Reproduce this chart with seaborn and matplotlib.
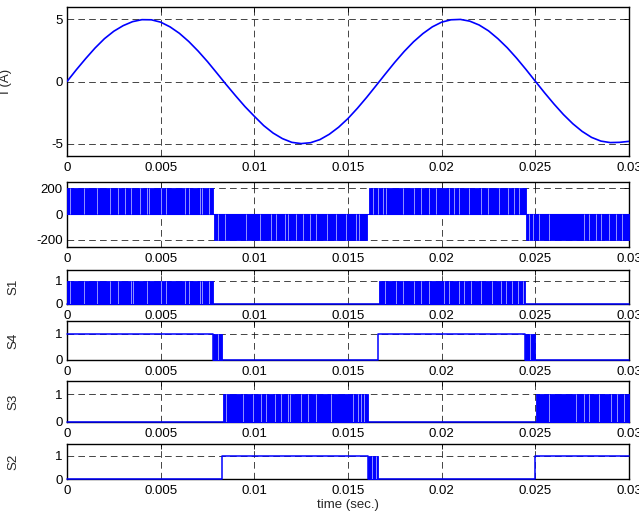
import matplotlib
matplotlib.use("Agg")
import matplotlib.pyplot as plt
import seaborn as sns
import pandas as pd

# ---------------- data ----------------
x_ticks = [0, 0.005, 0.01, 0.015, 0.02, 0.025, 0.03]
x_tick_labels = ["0", "0.005", "0.01", "0.015", "0.02", "0.025", "0.03"]

t_current = [0.0, 0.0005, 0.001, 0.0015, 0.002, 0.0025, 0.003, 0.0035, 0.004, 0.0045,
             0.005, 0.0055, 0.006, 0.0065, 0.007, 0.0075, 0.008, 0.0085, 0.009, 0.0095,
             0.01, 0.0105, 0.011, 0.0115, 0.012, 0.0125, 0.013, 0.0135, 0.014, 0.0145,
             0.015, 0.0155, 0.016, 0.0165, 0.017, 0.0175, 0.018, 0.0185, 0.019, 0.0195,
             0.02, 0.0205, 0.021, 0.0215, 0.022, 0.0225, 0.023, 0.0235, 0.024, 0.0245,
             0.025, 0.0255, 0.026, 0.0265, 0.027, 0.0275, 0.028, 0.0285, 0.029, 0.0295, 0.03]
i_current = [0.0, 0.95, 1.85, 2.7, 3.45, 4.05, 4.5, 4.82, 4.98, 4.97,
             4.78, 4.4, 3.88, 3.22, 2.45, 1.6, 0.68, -0.25, -1.15, -2.02,
             -2.8, -3.55, -4.15, -4.6, -4.9, -5.0, -4.93, -4.68, -4.25, -3.68,
             -2.98, -2.16, -1.27, -0.33, 0.62, 1.55, 2.42, 3.2, 3.86, 4.4,
             4.78, 4.97, 5.0, 4.86, 4.55, 4.08, 3.45, 2.72, 1.88, 0.97,
             0.02, -0.92, -1.82, -2.66, -3.4, -4.02, -4.5, -4.8, -4.92, -4.9, -4.82]

# inverter voltage: PWM bands between 0 and +/-200 V
v_band_start = [0.0, 0.00784, 0.01612, 0.02452]
v_band_end = [0.00777, 0.0160, 0.02448, 0.030]
v_band_level = [200, -200, 200, -200]
v_band_gaps = [
    [0.00016, 0.0009, 0.00158, 0.00229, 0.00272, 0.00309, 0.0034, 0.00389, 0.00426,
     0.00437, 0.0050, 0.00528, 0.00629, 0.0065, 0.00709, 0.00723, 0.00757],
    [0.00805, 0.00842, 0.00957, 0.01028, 0.01091, 0.01117, 0.01162, 0.01178, 0.01224,
     0.01258, 0.01295, 0.0133, 0.0139, 0.01437, 0.0149, 0.01544, 0.01561],
    [0.01632, 0.01659, 0.01686, 0.01704, 0.01792, 0.01854, 0.0189, 0.01934, 0.0197,
     0.02041, 0.02067, 0.02094, 0.02147, 0.0221, 0.02245, 0.02307, 0.02352, 0.02387, 0.02414],
    [0.02464, 0.02485, 0.0252, 0.02574, 0.0276, 0.02787, 0.02826, 0.02849, 0.02893,
     0.02929, 0.02964],
]

# gate signals: steady step levels plus switching bands (0..1)
s1_step_t = [0.0, 0.03]
s1_step_v = [0, 0]
s1_band_start = [0.0, 0.01668]
s1_band_end = [0.00777, 0.02445]
s1_band_gaps = [
    [0.00016, 0.0009, 0.00158, 0.00229, 0.00272, 0.0034, 0.00352, 0.00426, 0.0050,
     0.00528, 0.00629, 0.00652, 0.00709, 0.00723, 0.00757],
    [0.01695, 0.01757, 0.01792, 0.01854, 0.0189, 0.01934, 0.02014, 0.02041, 0.02094,
     0.02121, 0.02156, 0.0221, 0.02271, 0.02316, 0.02343, 0.02378, 0.02405, 0.02432],
]

s4_step_t = [0.0, 0.0078, 0.01662, 0.02445, 0.03]
s4_step_v = [1, 0, 1, 0, 0]
s4_band_start = [0.0078, 0.02445]
s4_band_end = [0.0083, 0.02496]
s4_band_gaps = [[0.00805], [0.0247]]

s3_step_t = [0.0, 0.03]
s3_step_v = [0, 0]
s3_band_start = [0.00834, 0.02505]
s3_band_end = [0.01606, 0.03]
s3_band_gaps = [
    [0.00851, 0.0094, 0.00993, 0.01037, 0.01064, 0.01108, 0.01144, 0.01179, 0.01188,
     0.01251, 0.01286, 0.0133, 0.0141, 0.01526, 0.01552, 0.0157, 0.01588],
    [0.02574, 0.02716, 0.0276, 0.02787, 0.0284, 0.02902, 0.02938, 0.02973],
]

s2_step_t = [0.0, 0.00829, 0.01606, 0.02496, 0.03]
s2_step_v = [0, 1, 0, 1, 1]
s2_band_start = [0.01606]
s2_band_end = [0.01662]
s2_band_gaps = [[0.0163, 0.01648]]

# ---------------- styling ----------------
sns.set_theme(style="white")
plt.rcParams["font.family"] = ["Liberation Sans", "DejaVu Sans"]
plt.rcParams["font.size"] = 9.5

BLUE = "#0000ff"

fig = plt.figure(figsize=(6.39, 5.19), dpi=100)
W = 639.0
H = 519.0
left_px, right_px = 67, 629
# (top, bottom) pixel rows of each panel
rows = [(7, 156), (182, 247), (270, 304), (321, 360), (381, 422), (444, 479)]
axes = []
for top, bot in rows:
    ax = fig.add_axes([left_px / W, 1 - bot / H, (right_px - left_px) / W, (bot - top) / H])
    axes.append(ax)


def style_axis(ax, yticks, ylim):
    ax.set_xlim(0, 0.03)
    ax.set_ylim(*ylim)
    ax.set_xticks(x_ticks)
    ax.set_xticklabels(x_tick_labels)
    ax.set_yticks(yticks)
    ax.set_yticklabels([str(v) for v in yticks])
    ax.set_axisbelow(True)
    ax.grid(True, color="black", linestyle=(0, (8, 5)), linewidth=0.6, alpha=0.85)
    ax.tick_params(direction="in", length=3.5, width=0.6, top=True, right=True,
                   labelsize=9.5, colors="black", pad=3)
    ax.tick_params(axis="x", pad=4)
    for s in ax.spines.values():
        s.set_color("black")
        s.set_linewidth(1.0)
        s.set_visible(True)
    ax.set_xlabel("")
    ax.set_ylabel("")


def draw_bands(ax, starts, ends, los, his, gaps):
    for s, e, lo, hi, g in zip(starts, ends, los, his, gaps):
        ax.fill_between([s, e], [lo, lo], [hi, hi], color=BLUE, linewidth=0.6, zorder=3)
        if g:
            ax.vlines(g, min(lo, hi), max(lo, hi), colors="white", linewidth=0.4, zorder=4)


# panel 1: current
ax = axes[0]
df_i = pd.DataFrame({"t": t_current, "i": i_current})
sns.lineplot(data=df_i, x="t", y="i", ax=ax, color=BLUE, linewidth=1.2, zorder=3)
style_axis(ax, [-5, 0, 5], (-6, 6))
ax.set_ylabel("I (A)", fontsize=9.5)
ax.yaxis.set_label_coords(-0.097, 0.5)

# panel 2: voltage
ax = axes[1]
sns.lineplot(x=[0.0, 0.03], y=[0, 0], ax=ax, color=BLUE, linewidth=0.8, zorder=3)
draw_bands(ax, v_band_start, v_band_end, [0] * 4, v_band_level, v_band_gaps)
style_axis(ax, [-200, 0, 200], (-255, 250))

# gate signal panels
gate_panels = [
    ("S1", s1_step_t, s1_step_v, s1_band_start, s1_band_end, s1_band_gaps, 1.45),
    ("S4", s4_step_t, s4_step_v, s4_band_start, s4_band_end, s4_band_gaps, 1.5),
    ("S3", s3_step_t, s3_step_v, s3_band_start, s3_band_end, s3_band_gaps, 1.47),
    ("S2", s2_step_t, s2_step_v, s2_band_start, s2_band_end, s2_band_gaps, 1.5),
]
for ax, (name, st, sv, bs, be, bg, ytop) in zip(axes[2:], gate_panels):
    df = pd.DataFrame({"t": st, "v": sv})
    sns.lineplot(data=df, x="t", y="v", ax=ax, color=BLUE, linewidth=1.1,
                 drawstyle="steps-post", zorder=3, clip_on=False)
    draw_bands(ax, bs, be, [0] * len(bs), [1] * len(bs), bg)
    style_axis(ax, [0, 1], (0, ytop))
    ax.set_ylabel(name, fontsize=9.5)
    ax.yaxis.set_label_coords(-0.085, 0.5)

axes[-1].set_xlabel("time (sec.)", fontsize=9.5, labelpad=2)

fig.savefig("out.png", dpi=100)
